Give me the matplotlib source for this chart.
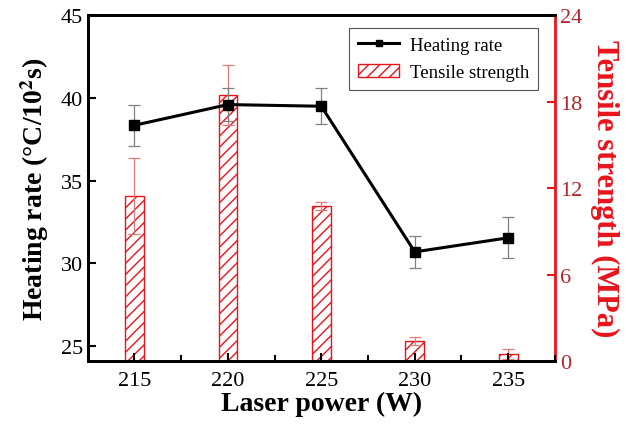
import numpy as np
import matplotlib.pyplot as plt
from matplotlib.ticker import MultipleLocator

plt.rcParams['font.family'] = 'Liberation Serif'
plt.rcParams['mathtext.fontset'] = 'stix'
plt.rcParams['hatch.color'] = '#e03030'
plt.rcParams['hatch.linewidth'] = 1.0

# Laser power (W)
power = [215, 220, 225, 230, 235]

# Heating rate (°C/10^2 s) with error
heating = [38.35, 39.6, 39.5, 30.7, 31.55]
heating_err = [1.25, 1.0, 1.1, 0.97, 1.23]

# Tensile strength (MPa) with error
tensile = [11.45, 18.45, 10.75, 1.4, 0.5]
tensile_err = [2.65, 2.1, 0.3, 0.3, 0.33]

red = '#e8141c'
dark_red = '#b3262b'

fig, ax = plt.subplots(figsize=(6.27, 4.27), dpi=100)
fig.subplots_adjust(left=0.140, right=0.885, top=0.962, bottom=0.152)
ax2 = ax.twinx()

# bars on the secondary axis, kept behind the line
ax2.bar(power, tensile, width=1.0, facecolor='white', edgecolor=red,
        linewidth=1.0, hatch='///', label='Tensile strength')
ax2.errorbar(power, tensile, yerr=tensile_err, fmt='none', ecolor='#e07a7a',
             elinewidth=0.9, capsize=4, capthick=0.9)
ax2.set_ylim(0, 24)
ax2.yaxis.set_major_locator(MultipleLocator(6))

ax.set_zorder(ax2.get_zorder() + 1)
ax.patch.set_visible(False)

ax.errorbar(power, heating, yerr=heating_err, fmt='none', ecolor='#808080',
            elinewidth=0.9, capsize=4, capthick=0.9)
ax.plot(power, heating, color='black', linewidth=2.2, marker='s',
        markersize=7, label='Heating rate')

ax.set_xlim(212.5, 237.5)
ax.set_ylim(24.1, 45)
ax.set_xticks(power)
ax.xaxis.set_minor_locator(MultipleLocator(2.5))
ax.yaxis.set_major_locator(MultipleLocator(5))

ax.set_xlabel('Laser power (W)', fontsize=20, fontweight='bold', labelpad=1)
ax.set_ylabel(r'Heating rate (°C/10$^{\mathbf{2}}$s)', fontsize=20,
              fontweight='bold', labelpad=7)
ax2.set_ylabel('Tensile strength (MPa)', fontsize=22, fontweight='bold',
               color=red, rotation=270, labelpad=27)

ax.tick_params(axis='both', which='major', direction='in', length=6,
               width=1.5, labelsize=16)
ax.tick_params(axis='x', which='minor', direction='in', length=4, width=1.5)
ax.tick_params(axis='x', which='major', pad=7)
ax2.tick_params(axis='y', direction='in', length=6, width=1.5, colors=red,
                labelsize=16, labelcolor=dark_red)

for s in ax.spines.values():
    s.set_linewidth(2)
for s in ax2.spines.values():
    s.set_linewidth(2)
ax2.spines['right'].set_color(red)
ax.spines['right'].set_visible(False)

h1, l1 = ax.get_legend_handles_labels()
h2, l2 = ax2.get_legend_handles_labels()
leg = ax.legend(h1 + h2, l1 + l2, loc='upper right', fontsize=13.5,
                fancybox=False, edgecolor='#555555', framealpha=1,
                handlelength=2.2, handletextpad=0.6, borderpad=0.45,
                labelspacing=0.55, markerscale=0.7, borderaxespad=0,
                bbox_to_anchor=(0.964, 0.962))
leg.get_frame().set_linewidth(0.8)

fig.savefig('out.png', dpi=100)
